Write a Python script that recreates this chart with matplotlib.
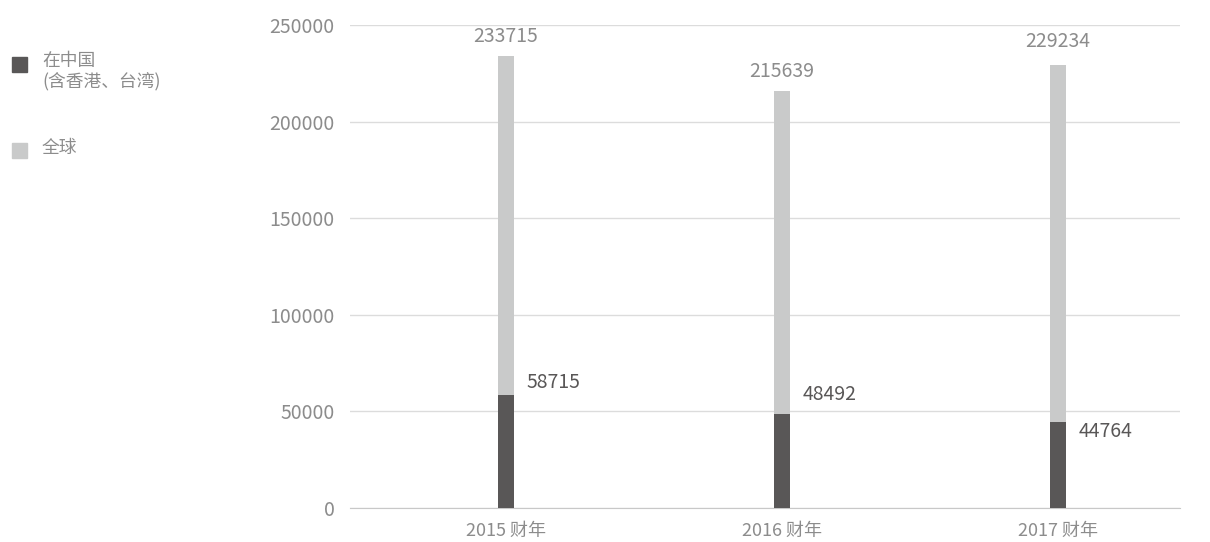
import matplotlib
matplotlib.use("Agg")
import matplotlib.pyplot as plt
from matplotlib.patches import Rectangle

plt.rcParams['font.family'] = ['Noto Sans CJK SC', 'DejaVu Sans']

categories = ["2015 财年", "2016 财年", "2017 财年"]
global_vals = [233715, 215639, 229234]
china_vals = [58715, 48492, 44764]
yticks = [0, 50000, 100000, 150000, 200000, 250000]
legend_labels = ["在中国\n(含香港、台湾)", "全球"]

# label offsets (style, in data units)
china_label_offsets = [6500, 10000, -5400]
global_label_offsets = [10500, 10500, 12000]

c_dark = "#595757"
c_light = "#c9caca"
c_text = "#8c8c8c"

fig = plt.figure(figsize=(12.1, 5.42), dpi=100)
ax = fig.add_axes([350/1210, 1-508/542, 830/1210, (508-25)/542])

x = list(range(len(categories)))
w = 0.058
ax.bar(x, global_vals, width=w, color=c_light, zorder=2)
ax.bar(x, china_vals, width=w, color=c_dark, zorder=3)

for xi, g, c, go, co in zip(x, global_vals, china_vals, global_label_offsets, china_label_offsets):
    ax.text(xi, g + go, f"{g}", ha="center", va="center", fontsize=14, color=c_text, fontweight="light")
    ax.text(xi + 0.075, c + co, f"{c}", ha="left", va="center", fontsize=14, color="#595757", fontweight="light")

ax.set_xlim(-0.565, 2.442)
ax.set_ylim(0, 250000)
ax.set_yticks(yticks)
ax.set_yticklabels([str(v) for v in yticks], fontsize=14, color=c_text, fontweight="light")
ax.set_xticks(x)
ax.set_xticklabels(categories, fontsize=13, color=c_text, fontweight="light")
ax.tick_params(axis='both', length=0)
ax.tick_params(axis='x', pad=10)
ax.tick_params(axis='y', pad=11)
ax.grid(axis='y', color="#dcdcdc", linewidth=1, zorder=0)
for s in ['top', 'right', 'left']:
    ax.spines[s].set_visible(False)
ax.spines['bottom'].set_color("#c8c8c8")

# legend
fig.patches.append(Rectangle((12/1210, 1-72/542), 15/1210, 15/542, transform=fig.transFigure, color=c_dark))
fig.patches.append(Rectangle((12/1210, 1-158/542), 15/1210, 15/542, transform=fig.transFigure, color=c_light))
fig.text(42/1210, 1-52/542, legend_labels[0], fontsize=12.8, color=c_text, va="top", linespacing=1.2, fontweight="light")
fig.text(42/1210, 1-139/542, legend_labels[1], fontsize=12.8, color=c_text, va="top", fontweight="light")

fig.savefig("out.png", dpi=100)
